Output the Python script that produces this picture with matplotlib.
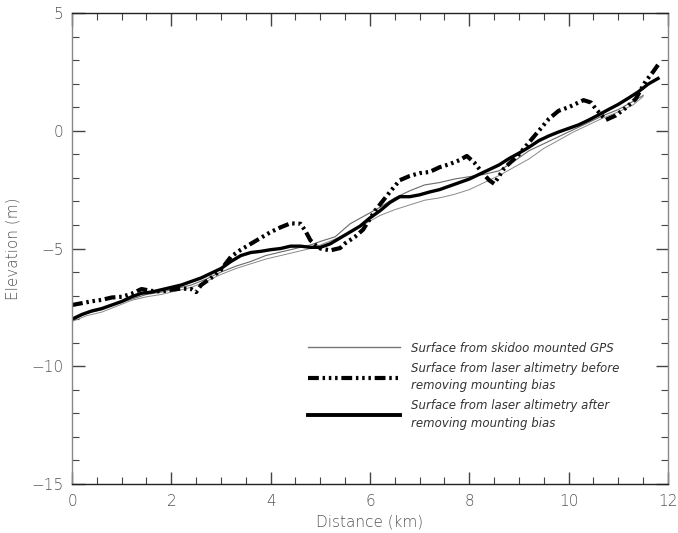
import matplotlib
matplotlib.use("Agg")
import matplotlib.pyplot as plt
from matplotlib.lines import Line2D
from matplotlib.ticker import MultipleLocator

# distance (km) / elevation (m)
before_x = [0.0, 0.2, 0.4, 0.6, 0.8, 1.0, 1.2, 1.4, 1.6, 1.8, 2.0, 2.2, 2.4, 2.5,
            2.6, 2.8, 3.0, 3.2, 3.4, 3.6, 3.8, 4.0, 4.2, 4.4, 4.6, 4.7, 4.8, 4.9,
            5.0, 5.2, 5.4, 5.5, 5.7, 5.86, 6.1, 6.4, 6.6, 6.8, 7.0, 7.2, 7.4, 7.6,
            7.8, 7.95, 8.1, 8.25, 8.4, 8.5, 8.7, 9.0, 9.2, 9.4, 9.6, 9.8, 10.0,
            10.2, 10.3, 10.45, 10.55, 10.75, 10.95, 11.15, 11.35, 11.55, 11.7, 11.8]
before_y = [-7.40, -7.32, -7.24, -7.18, -7.08, -7.05, -6.92, -6.72, -6.80, -6.82,
            -6.75, -6.70, -6.72, -6.85, -6.55, -6.25, -5.90, -5.35, -5.05, -4.80,
            -4.55, -4.30, -4.10, -3.93, -3.95, -4.25, -4.65, -4.85, -5.00, -5.08,
            -4.98, -4.78, -4.50, -4.20, -3.40, -2.60, -2.10, -1.92, -1.80, -1.75,
            -1.55, -1.42, -1.25, -1.07, -1.35, -1.75, -2.10, -2.25, -1.60, -1.00,
            -0.50, 0.00, 0.50, 0.85, 1.00, 1.20, 1.30, 1.20, 0.92, 0.46, 0.65,
            0.97, 1.35, 2.10, 2.50, 2.80]

after_x = [0.0, 0.2, 0.4, 0.6, 0.8, 1.0, 1.2, 1.4, 1.6, 1.8, 2.0, 2.2, 2.4, 2.6,
           2.8, 3.0, 3.2, 3.4, 3.6, 3.8, 4.0, 4.2, 4.4, 4.6, 4.8, 5.0, 5.2, 5.4,
           5.6, 5.8, 6.0, 6.2, 6.4, 6.6, 6.8, 7.0, 7.2, 7.4, 7.6, 7.8, 8.0, 8.2,
           8.4, 8.6, 8.8, 9.0, 9.2, 9.4, 9.6, 9.8, 10.0, 10.2, 10.4, 10.6, 10.8,
           11.0, 11.2, 11.4, 11.6, 11.8]
after_y = [-8.00, -7.80, -7.65, -7.55, -7.40, -7.25, -7.05, -6.90, -6.85, -6.75,
           -6.65, -6.55, -6.40, -6.25, -6.05, -5.85, -5.55, -5.30, -5.17, -5.12,
           -5.05, -5.00, -4.90, -4.90, -4.95, -4.95, -4.80, -4.55, -4.30, -4.05,
           -3.70, -3.40, -3.05, -2.80, -2.80, -2.72, -2.60, -2.50, -2.35, -2.20,
           -2.05, -1.85, -1.65, -1.45, -1.18, -0.95, -0.70, -0.42, -0.22, -0.05,
           0.10, 0.25, 0.45, 0.67, 0.90, 1.12, 1.38, 1.65, 1.98, 2.22]

gps_x = [0.0, 0.3, 0.6, 0.9, 1.2, 1.5, 1.8, 2.1, 2.4, 2.7, 3.0, 3.3, 3.6, 3.9,
         4.2, 4.5, 4.8, 5.0, 5.3, 5.6, 5.9, 6.2, 6.5, 6.8, 7.1, 7.4, 7.7, 8.0,
         8.3, 8.6, 8.9, 9.2, 9.5, 9.8, 10.1, 10.4, 10.7, 11.0, 11.3, 11.5]
gps_a = [-8.05, -7.75, -7.60, -7.35, -7.15, -6.95, -6.85, -6.70, -6.55, -6.30,
         -6.00, -5.75, -5.55, -5.30, -5.15, -5.00, -4.85, -4.70, -4.50, -3.95,
         -3.60, -3.25, -2.85, -2.55, -2.30, -2.20, -2.05, -1.95, -1.85, -1.70,
         -1.30, -0.85, -0.55, -0.25, 0.05, 0.35, 0.65, 0.90, 1.25, 1.50]
gps_b = [-8.10, -7.85, -7.70, -7.45, -7.20, -7.05, -6.95, -6.80, -6.65, -6.40,
         -6.10, -5.85, -5.65, -5.45, -5.30, -5.15, -5.00, -4.85, -4.60, -4.30,
         -3.95, -3.60, -3.35, -3.15, -2.95, -2.85, -2.70, -2.50, -2.20, -1.90,
         -1.55, -1.20, -0.75, -0.40, -0.05, 0.25, 0.55, 0.80, 1.10, 1.45]

labels = ["Surface from skidoo mounted GPS",
          "Surface from laser altimetry before\nremoving mounting bias",
          "Surface from laser altimetry after\nremoving mounting bias"]

tick_col = "#555555"
dash_style = (0, (2.6, 0.9, 0.6, 0.9, 0.6, 0.9, 0.6, 0.9))

fig = plt.figure(figsize=(6.78, 5.33), dpi=100)
ax = fig.add_axes([0.1062, 0.0919, 0.879, 0.8837])

ax.plot(gps_x, gps_a, color="#6a6a6a", lw=0.8)
ax.plot(gps_x, gps_b, color="#8a8a8a", lw=0.7)
ax.plot(before_x, before_y, color="black", lw=3.0, linestyle=dash_style)
ax.plot(after_x, after_y, color="black", lw=2.4)

ax.set_xlim(0, 12)
ax.set_ylim(-15, 5)
ax.xaxis.set_major_locator(MultipleLocator(2))
ax.xaxis.set_minor_locator(MultipleLocator(0.5))
ax.yaxis.set_major_locator(MultipleLocator(5))
ax.yaxis.set_minor_locator(MultipleLocator(1))
ax.tick_params(which="both", direction="in", top=True, right=True,
               color="#444444", labelcolor=tick_col, labelsize=11)
ax.tick_params(which="major", length=9, width=1)
ax.tick_params(which="minor", length=5, width=0.8)
ax.tick_params(axis="x", pad=7)
ax.tick_params(axis="y", pad=6)

for side in ["left", "right"]:
    ax.spines[side].set_color("#888888")
for side in ["top", "bottom"]:
    ax.spines[side].set_color("#222222")
for sp in ax.spines.values():
    sp.set_linewidth(1.0)

for lab in ax.get_xticklabels() + ax.get_yticklabels():
    lab.set_fontweight("light")

ax.set_xlabel("Distance (km)", color=tick_col, fontsize=11, fontweight="light", labelpad=4)
ax.set_ylabel("Elevation (m)", color=tick_col, fontsize=11, fontweight="light", labelpad=8)

handles = [Line2D([], [], color="#777777", lw=1.0),
           Line2D([], [], color="black", lw=3.0, linestyle=dash_style),
           Line2D([], [], color="black", lw=2.8)]
leg = ax.legend(handles, labels, loc="upper left", bbox_to_anchor=(0.386, 0.315),
                frameon=False, borderpad=0, handlelength=7.8, handletextpad=0.9,
                labelspacing=0.6, prop={"size": 8.5, "style": "italic"})
for t in leg.get_texts():
    t.set_color("#333333")
    t.set_linespacing(1.45)

fig.savefig("out.png", dpi=100)
